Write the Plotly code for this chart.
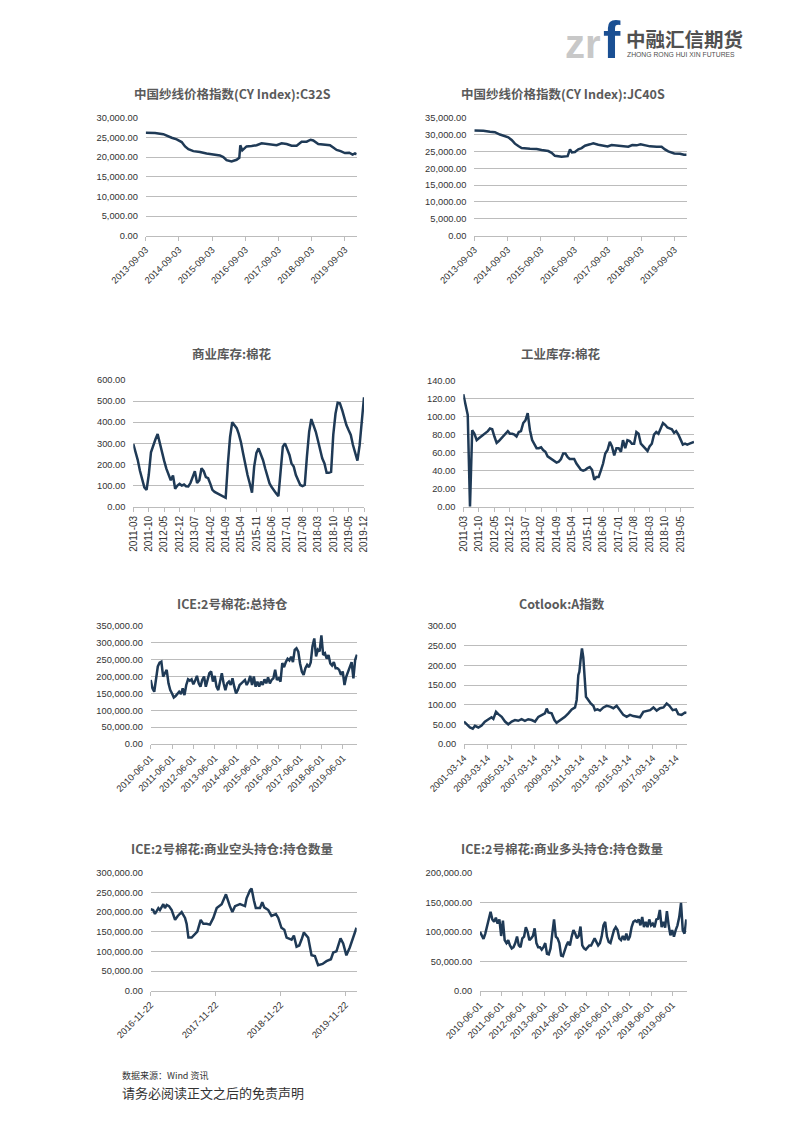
import plotly.graph_objects as go
import pandas as pd

W, H = 794, 1123

# ---------------- data ----------------
c32s_dates = ["2013-09-03", "2013-12-15", "2014-03-16", "2014-04-22", "2014-06-16", "2014-08-10",
              "2014-10-04", "2014-11-10", "2014-12-17", "2015-02-09", "2015-04-23", "2015-07-05",
              "2015-09-17", "2015-11-29", "2016-01-05", "2016-02-10", "2016-04-05", "2016-05-30",
              "2016-06-29", "2016-07-10", "2016-08-01", "2016-08-19", "2016-09-17", "2016-11-12",
              "2017-01-06", "2017-03-02", "2017-04-26", "2017-06-20", "2017-08-14", "2017-10-08",
              "2017-12-02", "2018-01-26", "2018-03-22", "2018-05-16", "2018-07-10", "2018-08-23",
              "2018-09-21", "2018-11-15", "2019-01-09", "2019-03-24", "2019-04-29", "2019-06-05",
              "2019-07-19", "2019-09-04", "2019-10-22", "2019-11-28", "2019-12-24", "2020-01-11"]
c32s_values = [26200, 26100, 25800, 25400, 24900, 24500,
               23800, 22700, 22000, 21500, 21300, 20900,
               20700, 20400, 20000, 19200, 18900, 19300,
               19800, 23000, 21700, 22100, 22700, 22800,
               23000, 23500, 23300, 23100, 23000, 23500,
               23300, 22900, 22900, 23900, 23900, 24400,
               24200, 23300, 23100, 23000, 22400, 21800,
               21500, 21000, 21100, 20600, 20900, 20700]

jc40s_dates = ["2013-09-03", "2013-12-11", "2014-02-22", "2014-04-17", "2014-06-11", "2014-08-05",
               "2014-09-10", "2014-10-17", "2014-11-22", "2014-12-29", "2015-02-03", "2015-05-06",
               "2015-07-18", "2015-09-10", "2015-11-22", "2015-12-29", "2016-02-03", "2016-04-16",
               "2016-06-21", "2016-07-17", "2016-08-07", "2016-09-09", "2016-10-16", "2016-11-21",
               "2016-12-28", "2017-02-21", "2017-03-29", "2017-05-23", "2017-07-17", "2017-09-02",
               "2017-10-16", "2017-12-10", "2018-02-02", "2018-04-16", "2018-05-30", "2018-07-17",
               "2018-08-29", "2018-10-16", "2018-12-10", "2019-02-21", "2019-04-16", "2019-05-23",
               "2019-06-28", "2019-09-02", "2019-11-03", "2019-12-17", "2020-01-15"]
jc40s_values = [31200, 31100, 30800, 30700, 30000, 29500,
                29200, 28400, 27300, 26600, 26000, 25800,
                25700, 25400, 25100, 24600, 23700, 23400,
                23600, 25600, 24700, 24800, 25600, 26000,
                26700, 27100, 27400, 27000, 26800, 26500,
                26900, 26800, 26500, 26400, 26900, 26800,
                27100, 26800, 26500, 26400, 26400, 25600,
                25000, 24400, 24300, 24000, 24000]

commercial_start = "2011-03-01"
commercial_values = [297, 262, 222, 170, 128, 92, 80, 150, 258, 290,
                     318, 344, 300, 250, 218, 180, 148, 125, 148, 85, 100, 108,
                     100, 105, 97, 96, 112, 140, 168, 112, 125, 182, 168, 140,
                     135, 108, 80, 70, 65, 60, 55, 50, 42, 200, 330, 400,
                     385, 372, 345, 305, 252, 196, 150, 110, 66, 190, 255, 276,
                     252, 220, 182, 142, 110, 92, 76, 63, 50, 166, 284, 300,
                     276, 245, 205, 190, 150, 129, 103, 98, 103, 237, 355, 415,
                     387, 355, 316, 269, 229, 205, 161, 161, 165, 340, 440, 492,
                     490, 458, 419, 387, 363, 340, 292, 253, 218, 290, 420, 518]

industrial_start = "2011-03-01"
industrial_values = [125, 113, 102, 0, 85, 81, 74, 76, 78, 80,
                     81, 84, 87, 86, 78, 71, 73, 76, 78, 81, 84, 81,
                     81, 80, 78, 83, 84, 93, 96, 104, 85, 74, 69, 65,
                     65, 66, 63, 61, 56, 54, 53, 50, 49, 50, 53, 59,
                     59, 55, 53, 53, 53, 48, 44, 41, 40, 41, 43, 44,
                     41, 30, 33, 33, 40, 48, 59, 63, 72, 67, 57, 65,
                     65, 61, 74, 65, 74, 73, 70, 70, 83, 81, 70, 67,
                     64, 62, 67, 70, 80, 83, 81, 87, 93, 91, 88, 87,
                     86, 82, 84, 80, 74, 69, 70, 69, 70, 71, 72]

ice_oi_start, ice_oi_end = "2010-06-01", "2020-01-28"
ice_oi_values = [190, 165, 155, 195, 230, 241, 244, 200, 210, 220,
                 180, 160, 150, 138, 142, 150, 155, 148, 165, 145,
                 175, 192, 188, 192, 177, 188, 202, 180, 170, 190,
                 200, 170, 192, 210, 215, 185, 202, 170, 160, 190,
                 210, 180, 160, 180, 185, 175, 195, 170, 150, 160,
                 175, 180, 185, 190, 175, 185, 202, 175, 200, 170,
                 185, 170, 185, 175, 192, 180, 198, 180, 190, 195,
                 220, 190, 195, 185, 240, 228, 243, 253, 248, 259,
                 243, 279, 284, 274, 239, 215, 205, 225, 235, 228,
                 242, 290, 313, 260, 280, 275, 322, 264, 269, 253,
                 264, 239, 233, 243, 225, 225, 220, 205, 215, 175,
                 200, 215, 228, 243, 195, 250, 265]  # thousands

cotlook_dates = ["2001-03-14", "2001-06-01", "2001-09-15", "2001-12-10", "2002-02-15", "2002-06-01",
                 "2002-09-10", "2002-12-20", "2003-04-10", "2003-07-15", "2003-09-10", "2003-12-01",
                 "2004-02-10", "2004-05-25", "2004-09-05", "2004-12-15", "2005-04-01", "2005-07-10",
                 "2005-10-20", "2006-02-01", "2006-05-15", "2006-08-25", "2006-12-10", "2007-03-25",
                 "2007-07-05", "2007-10-15", "2008-01-25", "2008-03-20", "2008-05-10", "2008-08-20",
                 "2008-11-15", "2009-01-20", "2009-04-15", "2009-06-28", "2009-10-05", "2010-01-20",
                 "2010-05-05", "2010-08-15", "2010-10-05", "2010-11-25", "2010-12-28", "2011-02-05",
                 "2011-03-18", "2011-04-28", "2011-05-28", "2011-07-20", "2011-10-01", "2011-12-15",
                 "2012-03-05", "2012-04-25", "2012-07-10", "2012-09-28", "2013-01-10", "2013-04-20",
                 "2013-08-05", "2013-11-15", "2014-02-25", "2014-06-10", "2014-09-20", "2015-01-01",
                 "2015-04-15", "2015-07-25", "2015-11-05", "2016-02-20", "2016-06-01", "2016-09-15",
                 "2016-12-28", "2017-04-10", "2017-07-20", "2017-10-30", "2018-02-15", "2018-05-25",
                 "2018-08-20", "2018-11-28", "2019-03-10", "2019-05-20", "2019-09-01", "2019-12-15",
                 "2020-01-31"]
cotlook_values = [57, 51, 42, 39, 46, 42,
                  47, 57, 63, 68, 64, 82,
                  76, 69, 57, 50, 57, 61,
                  59, 63, 59, 63, 61, 57,
                  69, 74, 78, 90, 80, 78,
                  61, 54, 59, 63, 69, 78,
                  88, 93, 112, 175, 184, 215,
                  243, 220, 175, 120, 112, 103,
                  97, 86, 88, 85, 93, 97,
                  95, 91, 97, 86, 74, 69,
                  74, 71, 69, 68, 82, 85,
                  86, 93, 85, 91, 93, 103,
                  97, 86, 88, 76, 74, 80,
                  79]

ice_short_dates = ["2016-11-22", "2016-12-06", "2016-12-16", "2017-01-04", "2017-01-13", "2017-02-01",
                   "2017-02-10", "2017-02-20", "2017-03-05", "2017-03-20", "2017-04-08", "2017-04-23",
                   "2017-05-15", "2017-06-03", "2017-06-12", "2017-06-22", "2017-07-10", "2017-07-29",
                   "2017-08-11", "2017-08-30", "2017-09-14", "2017-10-02", "2017-10-21", "2017-11-09",
                   "2017-11-28", "2017-12-26", "2018-01-19", "2018-02-10", "2018-02-24", "2018-03-11",
                   "2018-04-08", "2018-05-06", "2018-05-15", "2018-06-03", "2018-06-12", "2018-06-25",
                   "2018-07-06", "2018-07-29", "2018-08-11", "2018-08-22", "2018-09-14", "2018-10-02",
                   "2018-10-27", "2018-11-09", "2018-11-27", "2018-12-13", "2018-12-26", "2019-01-23",
                   "2019-02-05", "2019-02-20", "2019-03-07", "2019-03-20", "2019-04-02", "2019-04-26",
                   "2019-05-15", "2019-06-03", "2019-06-21", "2019-07-16", "2019-08-07", "2019-09-01",
                   "2019-09-14", "2019-10-02", "2019-10-17", "2019-10-25", "2019-11-09", "2019-11-27",
                   "2019-12-16", "2019-12-31", "2020-01-13", "2020-01-23"]
ice_short_values = [207, 205, 195, 210, 205, 220,
                    210, 218, 215, 205, 180, 190,
                    200, 185, 170, 135, 135, 143,
                    150, 180, 170, 170, 168, 185,
                    210, 220, 245, 215, 200, 215,
                    220, 215, 235, 255, 260, 230,
                    210, 210, 225, 212, 205, 190,
                    195, 185, 160, 155, 135, 130,
                    140, 112, 115, 130, 148, 135,
                    90, 88, 65, 68, 75, 80,
                    97, 100, 120, 133, 120, 90,
                    110, 130, 150, 160]  # thousands

ice_long_start, ice_long_end = "2010-06-01", "2020-01-25"
ice_long_values = [100, 93, 88, 97, 109, 125, 134, 121, 117, 124,
                   114, 121, 93, 119, 86, 81, 86, 77, 72, 74,
                   81, 92, 77, 74, 89, 92, 108, 100, 86, 89,
                   93, 106, 81, 74, 74, 70, 74, 81, 63, 62,
                   72, 97, 121, 92, 89, 81, 60, 59, 69, 77,
                   83, 77, 92, 103, 97, 89, 93, 109, 77, 72,
                   70, 74, 77, 77, 83, 89, 83, 77, 81, 92,
                   111, 117, 92, 83, 81, 92, 103, 108, 103, 89,
                   86, 93, 86, 97, 86, 92, 108, 117, 119, 117,
                   121, 111, 125, 108, 117, 108, 121, 111, 114, 108,
                   121, 122, 137, 108, 117, 107, 135, 111, 94, 103,
                   92, 103, 111, 125, 149, 103, 97, 121]  # thousands

ticks_cy = ["2013-09-03", "2014-09-03", "2015-09-03", "2016-09-03", "2017-09-03", "2018-09-03", "2019-09-03"]
ticks_commercial = ["2011-03", "2011-10", "2012-05", "2012-12", "2013-07", "2014-02", "2014-09", "2015-04",
                    "2015-11", "2016-06", "2017-01", "2017-08", "2018-03", "2018-10", "2019-05", "2019-12"]
ticks_industrial = ticks_commercial[:-1]
ticks_ice = ["2010-06-01", "2011-06-01", "2012-06-01", "2013-06-01", "2014-06-01", "2015-06-01",
             "2016-06-01", "2017-06-01", "2018-06-01", "2019-06-01"]
ticks_cotlook = ["2001-03-14", "2003-03-14", "2005-03-14", "2007-03-14", "2009-03-14", "2011-03-14",
                 "2013-03-14", "2015-03-14", "2017-03-14", "2019-03-14"]
ticks_short = ["2016-11-22", "2017-11-22", "2018-11-22", "2019-11-22"]

titles = ["中国纱线价格指数(CY Index):C32S", "中国纱线价格指数(CY Index):JC40S",
          "商业库存:棉花", "工业库存:棉花",
          "ICE:2号棉花:总持仓", "Cotlook:A指数",
          "ICE:2号棉花:商业空头持仓:持仓数量", "ICE:2号棉花:商业多头持仓:持仓数量"]

# ---------------- build series ----------------
commercial_dates = pd.date_range(commercial_start, periods=len(commercial_values), freq="MS")
industrial_dates = pd.date_range(industrial_start, periods=len(industrial_values), freq="MS")
ice_oi_dates = pd.date_range(ice_oi_start, ice_oi_end, periods=len(ice_oi_values))
ice_long_dates = pd.date_range(ice_long_start, ice_long_end, periods=len(ice_long_values))

panels = [
    dict(x=c32s_dates, y=c32s_values, xd=(145.7, 356.7), yd=(117.7, 235.7), ymax=30000, dt=5000,
         tv=ticks_cy, tt=ticks_cy, xr=["2013-09-03", "2020-01-12"], ang=-45, tpos=(232, 93)),
    dict(x=jc40s_dates, y=jc40s_values, xd=(474.3, 686.7), yd=(117.7, 235.7), ymax=35000, dt=5000,
         tv=ticks_cy, tt=ticks_cy, xr=["2013-09-03", "2020-01-16"], ang=-45, tpos=(563, 93)),
    dict(x=commercial_dates, y=commercial_values, xd=(133.3, 364.0), yd=(380.0, 506.7), ymax=600, dt=100,
         tv=[t + "-01" for t in ticks_commercial], tt=ticks_commercial,
         xr=["2011-03-01", "2019-12-01"], ang=-90, tpos=(232, 354)),
    dict(x=industrial_dates, y=industrial_values, xd=(463.3, 694.0), yd=(380.7, 506.7), ymax=140, dt=20,
         tv=[t + "-01" for t in ticks_industrial], tt=ticks_industrial,
         xr=["2011-03-01", "2019-11-01"], ang=-90, tpos=(561, 354)),
    dict(x=ice_oi_dates, y=[v * 1000 for v in ice_oi_values], xd=(150.7, 357.3), yd=(626.0, 744.0),
         ymax=350000, dt=50000, tv=ticks_ice, tt=ticks_ice, xr=["2010-06-01", "2020-02-03"], ang=-45,
         tpos=(232, 603)),
    dict(x=cotlook_dates, y=cotlook_values, xd=(464.0, 686.7), yd=(626.0, 744.0), ymax=300, dt=50,
         tv=ticks_cotlook, tt=ticks_cotlook, xr=["2001-03-14", "2020-02-05"], ang=-45, tpos=(562, 603)),
    dict(x=ice_short_dates, y=[v * 1000 for v in ice_short_values], xd=(150.7, 356.7), yd=(872.7, 990.7),
         ymax=300000, dt=50000, tv=ticks_short, tt=ticks_short, xr=["2016-11-22", "2020-01-24"], ang=-45,
         tpos=(232, 848)),
    dict(x=ice_long_dates, y=[v * 1000 for v in ice_long_values], xd=(480.0, 686.7), yd=(872.7, 991.0),
         ymax=200000, dt=50000, tv=ticks_ice, tt=ticks_ice, xr=["2010-06-01", "2020-02-01"], ang=-45,
         tpos=(562, 848)),
]

LINE = "#1f3a56"
GRID = "#bcbcbc"
TICKFONT = dict(family="Liberation Sans, Arial, sans-serif", size=9.3, color="#333333")
TITLEFONT = dict(family="Noto Sans CJK SC, sans-serif", size=12.5, color="#5a5a5a")


def px(x):
    return x / W


def py(y):
    return 1 - y / H


fig = go.Figure()
layout = dict(width=W, height=H, autosize=False, margin=dict(l=0, r=0, t=0, b=0, pad=0, autoexpand=False),
              paper_bgcolor="white", plot_bgcolor="white", showlegend=False, annotations=[])

for i, p in enumerate(panels, start=1):
    sfx = "" if i == 1 else str(i)
    fig.add_trace(go.Scatter(x=p["x"], y=p["y"], mode="lines",
                             line=dict(color=LINE, width=2.5),
                             xaxis="x" + sfx, yaxis="y" + sfx, hoverinfo="skip"))
    layout["xaxis" + sfx] = dict(
        domain=[px(p["xd"][0]), px(p["xd"][1])], anchor="y" + sfx, type="date", automargin=False,
        range=p["xr"], tickmode="array", tickvals=p["tv"], ticktext=p["tt"],
        tickangle=p["ang"], ticks="outside", ticklen=4, tickwidth=1, tickcolor=GRID,
        showline=True, linecolor=GRID, linewidth=1.3, showgrid=False, zeroline=False,
        tickfont=dict(TICKFONT, size=10 if p["ang"] == -90 else 9.3), fixedrange=True)
    layout["yaxis" + sfx] = dict(
        domain=[py(p["yd"][1]), py(p["yd"][0])], anchor="x" + sfx, automargin=False,
        range=[0, p["ymax"]], dtick=p["dt"], tick0=0, tickformat=",.2f",
        showgrid=True, gridcolor=GRID, gridwidth=1.3, zeroline=False, showline=False,
        ticks="outside", ticklen=5, tickcolor="rgba(0,0,0,0)",
        tickfont=TICKFONT, fixedrange=True)
    layout["annotations"].append(dict(
        text="<b>" + titles[i - 1] + "</b>", x=px(p["tpos"][0]), y=py(p["tpos"][1]),
        xref="paper", yref="paper", xanchor="center", yanchor="middle",
        showarrow=False, font=TITLEFONT))

# logo
layout["annotations"] += [
    dict(text="<b>zr</b>", x=px(603), y=py(44), xref="paper", yref="paper", xanchor="right",
         yanchor="middle", showarrow=False,
         font=dict(family="Liberation Sans, Arial", size=40, color="#c8c8c8")),
    dict(text="<b>f</b>", x=px(601), y=py(40), xref="paper", yref="paper", xanchor="left",
         yanchor="middle", showarrow=False,
         font=dict(family="Liberation Sans, Arial", size=52, color="#1a4f93")),
    dict(text="<b>中融汇信期货</b>", x=px(624), y=py(38), xref="paper", yref="paper", xanchor="left",
         yanchor="middle", showarrow=False,
         font=dict(family="Noto Sans CJK SC", size=19.5, color="#505050")),
    dict(text="ZHONG RONG HUI XIN FUTURES", x=px(625), y=py(54.5), xref="paper", yref="paper",
         xanchor="left", yanchor="middle", showarrow=False,
         font=dict(family="Liberation Sans, Arial", size=6.8, color="#505050")),
    # footer
    dict(text="数据来源：Wind 资讯", x=px(120), y=py(1075), xref="paper", yref="paper",
         xanchor="left", yanchor="middle", showarrow=False,
         font=dict(family="Noto Sans CJK SC", size=9, color="#333333")),
    dict(text="请务必阅读正文之后的免责声明", x=px(120), y=py(1092), xref="paper", yref="paper",
         xanchor="left", yanchor="middle", showarrow=False,
         font=dict(family="Noto Sans CJK SC", size=13, color="#333333")),
]

fig.update_layout(**layout)
fig.write_html("out.html", config={"responsive": False, "displayModeBar": False},
               post_script="document.body.style.margin='0px';document.body.style.padding='0px';")
